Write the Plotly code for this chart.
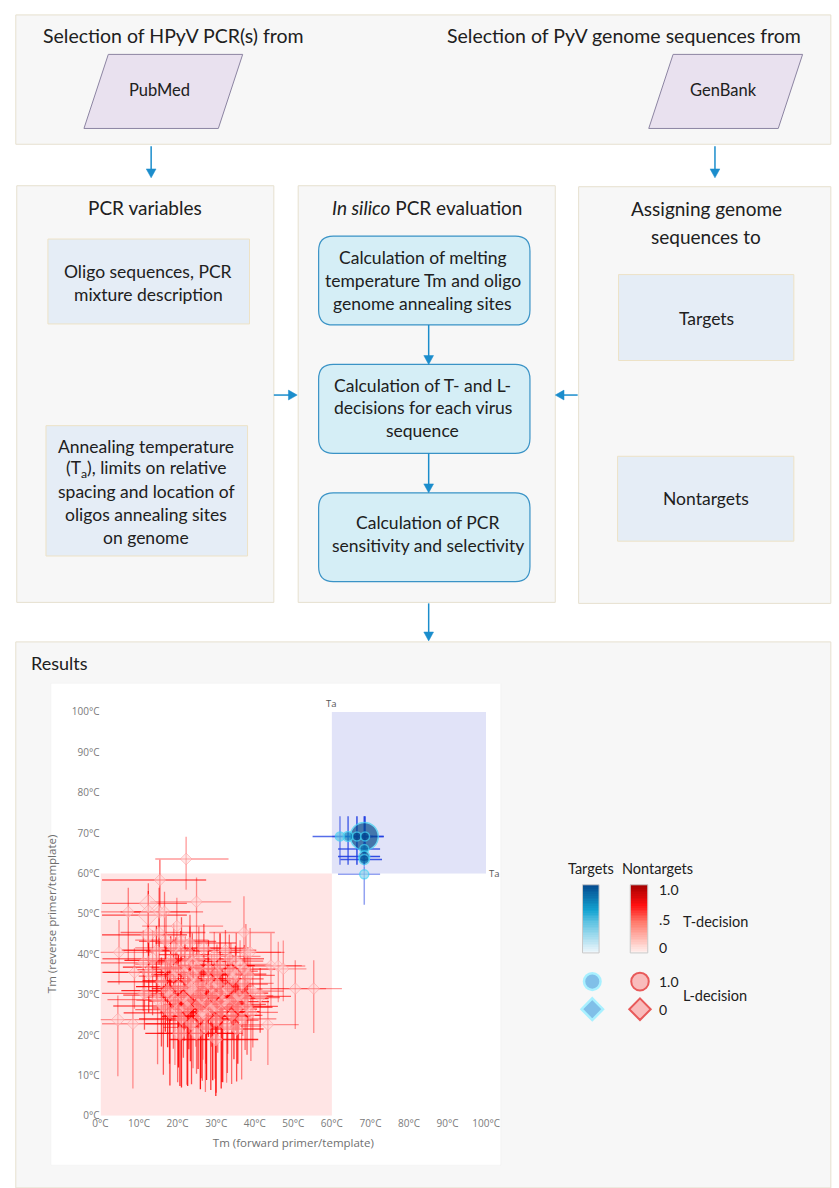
import plotly.graph_objects as go

W, H = 839, 1188
FONT = "Lato"
TXT = "#202020"

# ---------------- data: nontarget sequences ----------------
nt_tm_fwd = [22.2, 15.4, 24.9, 12.4, 7.2, 12.4, 15.2, 16.6, 12.4, 15.2,
             19.8, 4.8, 21.0, 23.2, 37.2, 37.7, 38.8, 23.2, 11.1, 12.5,
             8.8, 35.2, 37.3, 44.2, 46.1, 47.4, 50.5, 55.3, 41.4, 35.8,
             11.4, 4.5, 8.4, 20.6, 24.9, 29.9, 27.3, 43.4,
             14.5, 17.0, 18.2, 19.5, 20.8, 22.0, 24.1, 25.5, 26.8, 28.0, 29.5, 31.0, 32.4, 33.8, 15.8,
             17.4, 18.9, 20.2, 21.5, 22.9, 24.0, 25.3, 26.6, 27.9, 29.1, 30.4, 31.7, 33.0, 34.3, 35.6,
             36.9, 38.2, 39.5, 16.3, 18.0, 19.3, 21.0, 22.4, 23.6, 25.9, 27.2, 28.6, 30.0, 31.3, 32.7,
             34.0, 35.3, 36.6, 38.0, 13.5, 16.8, 19.0, 21.8, 23.3, 24.7, 26.1, 27.5, 28.8, 30.2, 31.5,
             32.9, 34.6, 36.2, 37.5, 39.0, 17.9, 20.0, 22.6, 25.0, 26.4, 29.7, 33.4, 35.0, 14.8, 23.8]
nt_tm_rev = [63.6, 58.4, 53.0, 52.6, 50.5, 49.7, 50.5, 50.5, 44.8, 45.4,
             47.0, 40.5, 43.2, 42.8, 45.4, 40.5, 40.5, 39.9, 37.9, 35.5,
             35.5, 38.3, 36.3, 37.2, 37.1, 36.4, 31.5, 31.5, 29.6, 29.7,
             30.3, 23.8, 22.8, 20.4, 20.4, 18.9, 24.9, 22.6,
             41.0, 43.5, 38.5, 36.2, 40.8, 37.5, 35.0, 38.8, 41.5, 36.5, 39.5, 37.2, 41.0, 35.8, 33.2,
             31.0, 34.6, 32.0, 29.4, 33.5, 30.8, 27.6, 31.9, 34.0, 29.8, 32.6, 28.3, 31.4, 33.9, 26.9,
             32.8, 34.8, 30.9, 27.2, 25.5, 28.6, 24.0, 26.7, 22.8, 24.6, 21.9, 26.4, 23.7, 25.8, 22.2,
             24.9, 21.5, 24.0, 27.1, 38.9, 36.8, 41.6, 35.6, 31.5, 33.1, 29.3, 27.9, 32.1, 35.4, 30.4,
             27.6, 29.0, 37.5, 29.3, 25.6, 29.9, 26.3, 28.4, 36.6, 25.7, 27.2, 38.9, 35.1, 28.8, 38.2]
nt_fwd_lo = [8, 15, 12, 12, 7, 12, 10, 8, 12, 10,
             9, 4.8, 11, 9, 9, 9, 8, 8, 11, 12,
             8, 11, 10, 8, 8, 8, 10, 11, 10, 12,
             11, 4.5, 8, 9, 10, 12, 11, 9,
             9, 8, 12, 10, 9, 13, 11, 8, 10, 12, 9, 11, 10, 9, 14,
             12, 9, 11, 10, 12, 13, 9, 11, 10, 12, 9, 11, 10, 12, 10,
             9, 11, 10, 13, 12, 10, 11, 9, 12, 10, 11, 9, 13, 10, 12,
             10, 9, 11, 10, 13, 11, 10, 12, 10, 13, 11, 9, 12, 10, 11,
             9, 10, 11, 9, 10, 12, 11, 10, 12, 11, 10, 11, 10, 13, 11]
nt_fwd_hi = [11, 12, 9, 10, 10, 10, 8, 10, 10, 12,
             12, 9, 9, 12, 8, 10, 8, 10, 9, 10,
             9, 7, 8, 8, 7, 6, 8, 7.3, 8, 9,
             12, 12, 10, 15, 12, 11, 14, 8,
             10, 11, 9, 12, 8, 10, 13, 9, 11, 10, 12, 9, 8, 7, 11,
             10, 12, 9, 13, 11, 10, 12, 9, 11, 10, 13, 12, 9, 8, 9,
             8, 7, 8, 12, 14, 11, 13, 12, 10, 13, 9, 12, 11, 10, 9,
             8, 7, 9, 8, 12, 10, 12, 9, 11, 10, 12, 10, 11, 9, 12,
             10, 9, 8, 9, 7, 11, 12, 13, 10, 11, 12, 9, 8, 10, 12]
nt_rev_lo = [7.6, 7, 13, 10, 12, 8, 10, 9, 10, 8,
             10, 8, 9, 8, 14, 12, 10, 9, 12, 10,
             9, 10, 10, 10, 9, 8, 10, 11, 9, 11,
             9, 14, 16, 13, 10, 14, 12, 10,
             12, 14, 15, 11, 13, 16, 12, 14, 10, 17, 13, 15, 12, 14, 16,
             14, 18, 20, 15, 17, 19, 16, 18, 14, 21, 17, 20, 16, 15, 14,
             13, 12, 14, 17, 18, 16, 17, 19, 15, 18, 16, 20, 18, 19, 14,
             17, 13, 15, 12, 14, 16, 13, 17, 18, 16, 20, 19, 15, 16, 22,
             17, 15, 14, 13, 12, 17, 18, 21, 15, 17, 18, 13, 14, 16, 15]
nt_rev_hi = [5.5, 5, 6, 5, 6, 6, 6, 5, 6, 6,
             7, 8, 6, 7, 9, 7, 6, 7, 8, 8,
             6, 7, 6, 8, 6, 7, 7, 7, 7, 7,
             6, 6, 7, 8, 8, 8, 8, 6,
             6, 7, 6, 8, 5, 7, 6, 8, 6, 7, 6, 8, 5, 7, 6,
             7, 6, 8, 7, 6, 8, 7, 6, 8, 7, 6, 7, 8, 6, 7,
             6, 7, 6, 7, 8, 6, 7, 6, 8, 7, 6, 8, 7, 6, 7,
             8, 6, 7, 6, 7, 8, 6, 7, 8, 6, 7, 6, 8, 7, 6,
             7, 8, 6, 7, 6, 8, 6, 7, 6, 8, 7, 6, 7, 6, 7]
nt_t_decision = [.3, .6, .3, .5, .4, .7, .5, .4, .8, .5,
                 .3, .3, .6, .5, .3, .4, .3, .7, .5, .8,
                 .3, .5, .4, .3, .25, .25, .3, .3, .6, .5,
                 .6, .3, .3, .9, .5, .9, .6, .3,
                 .8, .4, .9, .5, .7, .3, .9, .4, .6, .8, .3, 1.0, .5, .4, .7,
                 .9, .5, 1.0, .6, .8, .4, .9, .3, .7, 1.0, .5, .8, .4, .6, .9,
                 .3, .5, .4, .6, .8, .3, .9, .5, .7, 1.0, .4, .8, .6, .9, .3,
                 .5, .7, .4, .6, .5, .9, .4, .6, .8, .3, .7, 1.0, .5, .4, .9,
                 .6, .8, .3, .5, .4, .7, .5, .9, .4, .6, .3, .5, .7, .4, .6]
nt_size = [9, 9, 9, 14, 9, 16, 10, 9, 12, 9,
           9, 9, 10, 9, 9, 9, 9, 10, 9, 11,
           9, 9, 9, 9, 9, 9, 9, 9, 10, 9,
           10, 10, 9, 11, 10, 10, 10, 9,
           9, 10, 9, 10, 9, 11, 10, 9, 10, 9, 10, 9, 9, 10, 9,
           10, 9, 10, 9, 10, 11, 9, 10, 9, 10, 9, 10, 9, 10, 9,
           9, 10, 9, 10, 9, 10, 9, 11, 10, 9, 10, 9, 10, 9, 10,
           9, 10, 9, 9, 10, 9, 10, 9, 11, 9, 10, 9, 10, 9, 10,
           9, 10, 9, 9, 10, 9, 10, 9, 10, 9, 10, 9, 9, 10, 9]

# ---------------- data: target sequences ----------------
tg_tm_fwd = [68.4, 64.2, 62.1, 66.5, 68.6, 68.4, 68.4, 68.4, 68.4]
tg_tm_rev = [69.2, 69.2, 69.2, 69.2, 69.2, 66.1, 64.2, 63.5, 59.8]
tg_fwd_lo = [3.5, 9.2, 2.0, 2.0, 2.0, 6.8, 6.8, 6.2, 6.8]
tg_fwd_hi = [5.0, 9.3, 2.0, 2.0, 2.0, 4.1, 4.1, 4.6, 4.1]
tg_rev_lo = [5.0, 7.0, 7.0, 7.0, 5.0, 1.5, 2.0, 1.5, 7.5]
tg_rev_hi = [5.0, 5.0, 5.0, 5.0, 5.0, 1.5, 2.0, 1.5, 2.0]
tg_t_decision = [1.0, 0.75, 0.45, 1.0, 1.0, 0.8, 1.0, 0.9, 0.3]
tg_size = [28, 10, 9, 9, 9, 9, 11, 10, 9]

axis_ticks = list(range(0, 101, 10))
axis_labels = [f"{v}°C" for v in axis_ticks]
ta_value = 60            # annealing temperature
legend_ticks = ["1.0", ".5", "0"]

TG_SCALE = [[0, "#f2f8fc"], [0.45, "#5fc3e2"], [0.62, "#14a4d2"], [1, "#03488d"]]
NT_SCALE = [[0, "#fff4f2"], [0.45, "#ff7a6c"], [0.7, "#ff1010"], [1, "#a30000"]]


# ---------------- helpers (pixel -> paper) ----------------
def X(x):
    return x / W


def Y(y):
    return 1 - y / H


def rect(x0, y0, x1, y1, fill, line, lw=1.0, layer="below"):
    return dict(type="rect", xref="paper", yref="paper",
                x0=X(x0), x1=X(x1), y0=Y(y1), y1=Y(y0),
                fillcolor=fill, line=dict(color=line, width=lw), layer=layer)


def poly(pts, fill, line, lw=1.0, layer="below"):
    d = "M " + " L ".join(f"{X(px):.5f},{Y(py):.5f}" for px, py in pts) + " Z"
    return dict(type="path", xref="paper", yref="paper", path=d,
                fillcolor=fill, line=dict(color=line, width=lw), layer=layer)


def rounded(x0, y0, x1, y1, r, fill, line, lw=1.2):
    P = lambda px, py: f"{X(px):.5f},{Y(py):.5f}"
    d = (f"M {P(x0 + r, y0)} L {P(x1 - r, y0)} Q {P(x1, y0)} {P(x1, y0 + r)} "
         f"L {P(x1, y1 - r)} Q {P(x1, y1)} {P(x1 - r, y1)} "
         f"L {P(x0 + r, y1)} Q {P(x0, y1)} {P(x0, y1 - r)} "
         f"L {P(x0, y0 + r)} Q {P(x0, y0)} {P(x0 + r, y0)} Z")
    return dict(type="path", xref="paper", yref="paper", path=d,
                fillcolor=fill, line=dict(color=line, width=lw), layer="below")


def seg(x0, y0, x1, y1, color, lw=1.5, layer="below"):
    return dict(type="line", xref="paper", yref="paper",
                x0=X(x0), y0=Y(y0), x1=X(x1), y1=Y(y1),
                line=dict(color=color, width=lw), layer=layer)


ARROW = "#1b8dcc"


def arrow(x0, y0, x1, y1):
    out = []
    if x0 == x1:
        s = 1 if y1 > y0 else -1
        out.append(seg(x0, y0, x1, y1 - s * 8, ARROW))
        out.append(poly([(x1 - 5, y1 - s * 9), (x1 + 5, y1 - s * 9), (x1, y1)], ARROW, ARROW, 0.5))
    else:
        s = 1 if x1 > x0 else -1
        out.append(seg(x0, y0, x1 - s * 8, y1, ARROW))
        out.append(poly([(x1 - s * 9, y1 - 5), (x1 - s * 9, y1 + 5), (x1, y1)], ARROW, ARROW, 0.5))
    return out


def text(s, x, y, size=17.5, anchor="center", color=TXT, family=FONT):
    return dict(text=s, x=X(x), y=Y(y), xref="paper", yref="paper", showarrow=False,
                xanchor=anchor, yanchor="middle", font=dict(family=family, size=size, color=color))


def text_lines(lines, x, y0, step=23, size=17.5):
    return [text(s, x, y0 + i * step, size) for i, s in enumerate(lines)]


# ---------------- flowchart shapes ----------------
PANEL = "#f7f7f7"
PANEL_LINE = "#e6e0cf"
INNER = "#e5edf6"
INNER_LINE = "#ede2c6"
ROUND = "#d5eef6"
ROUND_LINE = "#3a93c6"
PARA = "#e9e1ef"
PARA_LINE = "#8c84a2"

shapes = [
    rect(8, 7, 845, 138, PANEL, PANEL_LINE),
    poly([(103, 47), (241, 47), (216, 122), (78, 122)], PARA, PARA_LINE),
    poly([(683, 47), (816, 47), (791, 122), (658, 122)], PARA, PARA_LINE),
    rect(9, 180, 273, 602, PANEL, PANEL_LINE),
    rect(41, 234, 248, 320, INNER, INNER_LINE),
    rect(39, 423, 246, 555, INNER, INNER_LINE),
    rect(298, 180, 562, 602, PANEL, PANEL_LINE),
    rounded(319, 231, 536, 321, 15, ROUND, ROUND_LINE),
    rounded(319, 361, 536, 451, 15, ROUND, ROUND_LINE),
    rounded(319, 491, 536, 581, 15, ROUND, ROUND_LINE),
    rect(586, 181, 845, 603, PANEL, PANEL_LINE),
    rect(627, 270, 807, 357, INNER, INNER_LINE),
    rect(626, 454, 807, 540, INNER, INNER_LINE),
    rect(8, 642, 845, 1195, PANEL, PANEL_LINE),
    rect(44, 684, 506, 1172, "white", "#f0f0f0", 0.5),
]
shapes += arrow(147, 140, 147, 172)
shapes += arrow(726, 140, 726, 172)
shapes += arrow(273, 392, 297, 392)
shapes += arrow(585, 392, 562, 392)
shapes += arrow(432, 321, 432, 361)
shapes += arrow(432, 451, 432, 491)
shapes += arrow(432, 603, 432, 641)

# decision regions inside the chart
shapes += [
    dict(type="rect", xref="x", yref="y", x0=0, x1=ta_value, y0=0, y1=ta_value,
         fillcolor="rgba(255,212,212,0.6)", line=dict(width=0), layer="between"),
    dict(type="rect", xref="x", yref="y", x0=ta_value, x1=100, y0=ta_value, y1=100,
         fillcolor="rgba(205,209,244,0.6)", line=dict(width=0), layer="between"),
]


# legend marker glyphs (L-decision)
def circle(cx, cy, r, fill, line, lw):
    return dict(type="circle", xref="paper", yref="paper",
                x0=X(cx - r), x1=X(cx + r), y0=Y(cy + r), y1=Y(cy - r),
                fillcolor=fill, line=dict(color=line, width=lw), layer="above")


def diamond(cx, cy, r, fill, line, lw):
    return poly([(cx, cy - r), (cx + r, cy), (cx, cy + r), (cx - r, cy)], fill, line, lw, "above")


shapes += [
    circle(600, 986, 8.5, "#80bfe8", "#a8f0ff", 2.5),
    diamond(600, 1014, 11, "#80bfe8", "#a8f0ff", 2.5),
    circle(649, 986, 9, "#f9bcbc", "#e85a5a", 2),
    diamond(649, 1014, 11, "#f9bcbc", "#e85a5a", 2),
    rect(590, 888, 607, 957, "rgba(0,0,0,0)", "#c9c9c9", 1, "above"),
    rect(639, 888, 657, 957, "rgba(0,0,0,0)", "#c9c9c9", 1, "above"),
]

# ---------------- texts ----------------
ann = [
    text("Selection of HPyV PCR(s) from", 170, 28, 19.5),
    text("Selection of PyV genome sequences from", 633, 28, 19.5),
    text("PubMed", 156, 83, 16.5),
    text("GenBank", 735, 83, 16.5),
    text("PCR variables", 141, 202, 19),
    text("<i>In silico</i> PCR evaluation", 430, 202, 19),
    text("Assigning genome", 717, 203, 19),
    text("sequences to", 717, 231, 19),
    text("Targets", 717, 314),
    text("Nontargets", 717, 497),
    text("Results", 22, 663, 18, anchor="left"),
]
ann += text_lines(["Oligo sequences, PCR", "mixture description"], 144, 267)
ann += text_lines(["Annealing temperature", "(T<sub>a</sub>), limits on relative",
                   "spacing and location of", "oligos annealing sites", "on genome"], 142, 444)
ann += text_lines(["Calculation of melting", "temperature Tm and oligo",
                   "genome annealing sites"], 426, 253)
ann += text_lines(["Calculation of T- and L-", "decisions for each virus", "sequence"], 426, 382)
ann += text_lines(["Calculation of PCR", "sensitivity and selectivity"], 431, 521)

# legend texts
ann += [
    text("Targets", 599, 871, 14.5),
    text("Nontargets", 667, 871, 14.5),
    text(legend_ticks[0], 666, 893, 14, anchor="left"),
    text(legend_ticks[1], 666, 923, 14, anchor="left"),
    text(legend_ticks[2], 666, 952, 14, anchor="left"),
    text("T-decision", 691, 925, 14.5, anchor="left"),
    text("1.0", 666, 986, 14, anchor="left"),
    text("0", 666, 1014, 14, anchor="left"),
    text("L-decision", 691, 1000, 14.5, anchor="left"),
]

# Ta markers on the chart
ann += [
    dict(text="Ta", x=ta_value, y=100, xref="x", yref="y", showarrow=False,
         xanchor="center", yanchor="bottom",
         font=dict(family="Open Sans", size=9.5, color="#555")),
    dict(text="Ta", x=100, y=ta_value, xref="x", yref="y", showarrow=False,
         xanchor="left", yanchor="middle", xshift=1,
         font=dict(family="Open Sans", size=9.5, color="#555")),
]

# ---------------- traces ----------------
fig = go.Figure()

# nontarget error bars, one trace per T-decision level
for level in sorted(set(nt_t_decision)):
    idx = [i for i, v in enumerate(nt_t_decision) if v == level]
    col = f"rgba(255,0,0,{0.18 + 0.72 * level:.2f})"
    fig.add_trace(go.Scatter(
        x=[nt_tm_fwd[i] for i in idx], y=[nt_tm_rev[i] for i in idx],
        mode="markers", marker=dict(size=1, color="rgba(0,0,0,0)"),
        error_x=dict(type="data", symmetric=False,
                     array=[nt_fwd_hi[i] for i in idx], arrayminus=[nt_fwd_lo[i] for i in idx],
                     color=col, thickness=1.3, width=0),
        error_y=dict(type="data", symmetric=False,
                     array=[nt_rev_hi[i] for i in idx], arrayminus=[nt_rev_lo[i] for i in idx],
                     color=col, thickness=1.3, width=0),
        hoverinfo="skip", showlegend=False))

fig.add_trace(go.Scatter(
    x=nt_tm_fwd, y=nt_tm_rev, mode="markers",
    marker=dict(symbol="diamond", size=nt_size, color="rgba(255,214,214,0.72)",
                line=dict(color="rgba(255,160,160,0.85)", width=1)),
    hoverinfo="skip", showlegend=False))

# target error bars
for level in sorted(set(tg_t_decision)):
    idx = [i for i, v in enumerate(tg_t_decision) if v == level]
    col = f"rgba(30,60,225,{0.3 + 0.6 * level:.2f})"
    fig.add_trace(go.Scatter(
        x=[tg_tm_fwd[i] for i in idx], y=[tg_tm_rev[i] for i in idx],
        mode="markers", marker=dict(size=1, color="rgba(0,0,0,0)"),
        error_x=dict(type="data", symmetric=False,
                     array=[tg_fwd_hi[i] for i in idx], arrayminus=[tg_fwd_lo[i] for i in idx],
                     color=col, thickness=1.5, width=0),
        error_y=dict(type="data", symmetric=False,
                     array=[tg_rev_hi[i] for i in idx], arrayminus=[tg_rev_lo[i] for i in idx],
                     color=col, thickness=1.5, width=0),
        hoverinfo="skip", showlegend=False))

fig.add_trace(go.Scatter(
    x=tg_tm_fwd, y=tg_tm_rev, mode="markers",
    marker=dict(symbol="circle", size=tg_size, color=tg_t_decision,
                colorscale=TG_SCALE, cmin=0, cmax=1,
                line=dict(color="#3fd2f2", width=1.5)),
    hoverinfo="skip", showlegend=False))

# T-decision colour bars of the legend
ramp = [i / 40 for i in range(41)]
fig.add_trace(go.Heatmap(z=[[v] for v in ramp], x=[0], y=ramp, colorscale=TG_SCALE,
                         zmin=0, zmax=1, showscale=False, xaxis="x2", yaxis="y2",
                         hoverinfo="skip"))
fig.add_trace(go.Heatmap(z=[[v] for v in ramp], x=[0], y=ramp, colorscale=NT_SCALE,
                         zmin=0, zmax=1, showscale=False, xaxis="x3", yaxis="y3",
                         hoverinfo="skip"))

axis_common = dict(range=[0, 100], tickmode="array", tickvals=axis_ticks, ticktext=axis_labels,
                   showgrid=True, gridcolor="white", gridwidth=1.4,
                   zeroline=False, showline=False, ticks="",
                   tickfont=dict(family="Open Sans", size=10, color="#7a7a7a"),
                   fixedrange=True)

fig.update_layout(
    width=W, height=H,
    margin=dict(l=0, r=0, t=0, b=0),
    paper_bgcolor="white",
    plot_bgcolor="#f2f2f2",
    showlegend=False,
    shapes=shapes,
    annotations=ann,
    xaxis=dict(domain=[X(95), X(491)], anchor="y",
               title=dict(text="Tm (forward primer/template)", standoff=10,
                          font=dict(family="Open Sans", size=11.5, color="#6f6f6f")),
               **axis_common),
    yaxis=dict(domain=[Y(1122), Y(713)], anchor="x",
               title=dict(text="Tm (reverse primer/template)", standoff=12,
                          font=dict(family="Open Sans", size=11.5, color="#6f6f6f")),
               **axis_common),
    xaxis2=dict(domain=[X(590), X(607)], anchor="y2", visible=False, range=[-0.5, 0.5]),
    yaxis2=dict(domain=[Y(957), Y(888)], anchor="x2", visible=False, range=[0, 1]),
    xaxis3=dict(domain=[X(639), X(657)], anchor="y3", visible=False, range=[-0.5, 0.5]),
    yaxis3=dict(domain=[Y(957), Y(888)], anchor="x3", visible=False, range=[0, 1]),
)

fig.write_html("out.html")
